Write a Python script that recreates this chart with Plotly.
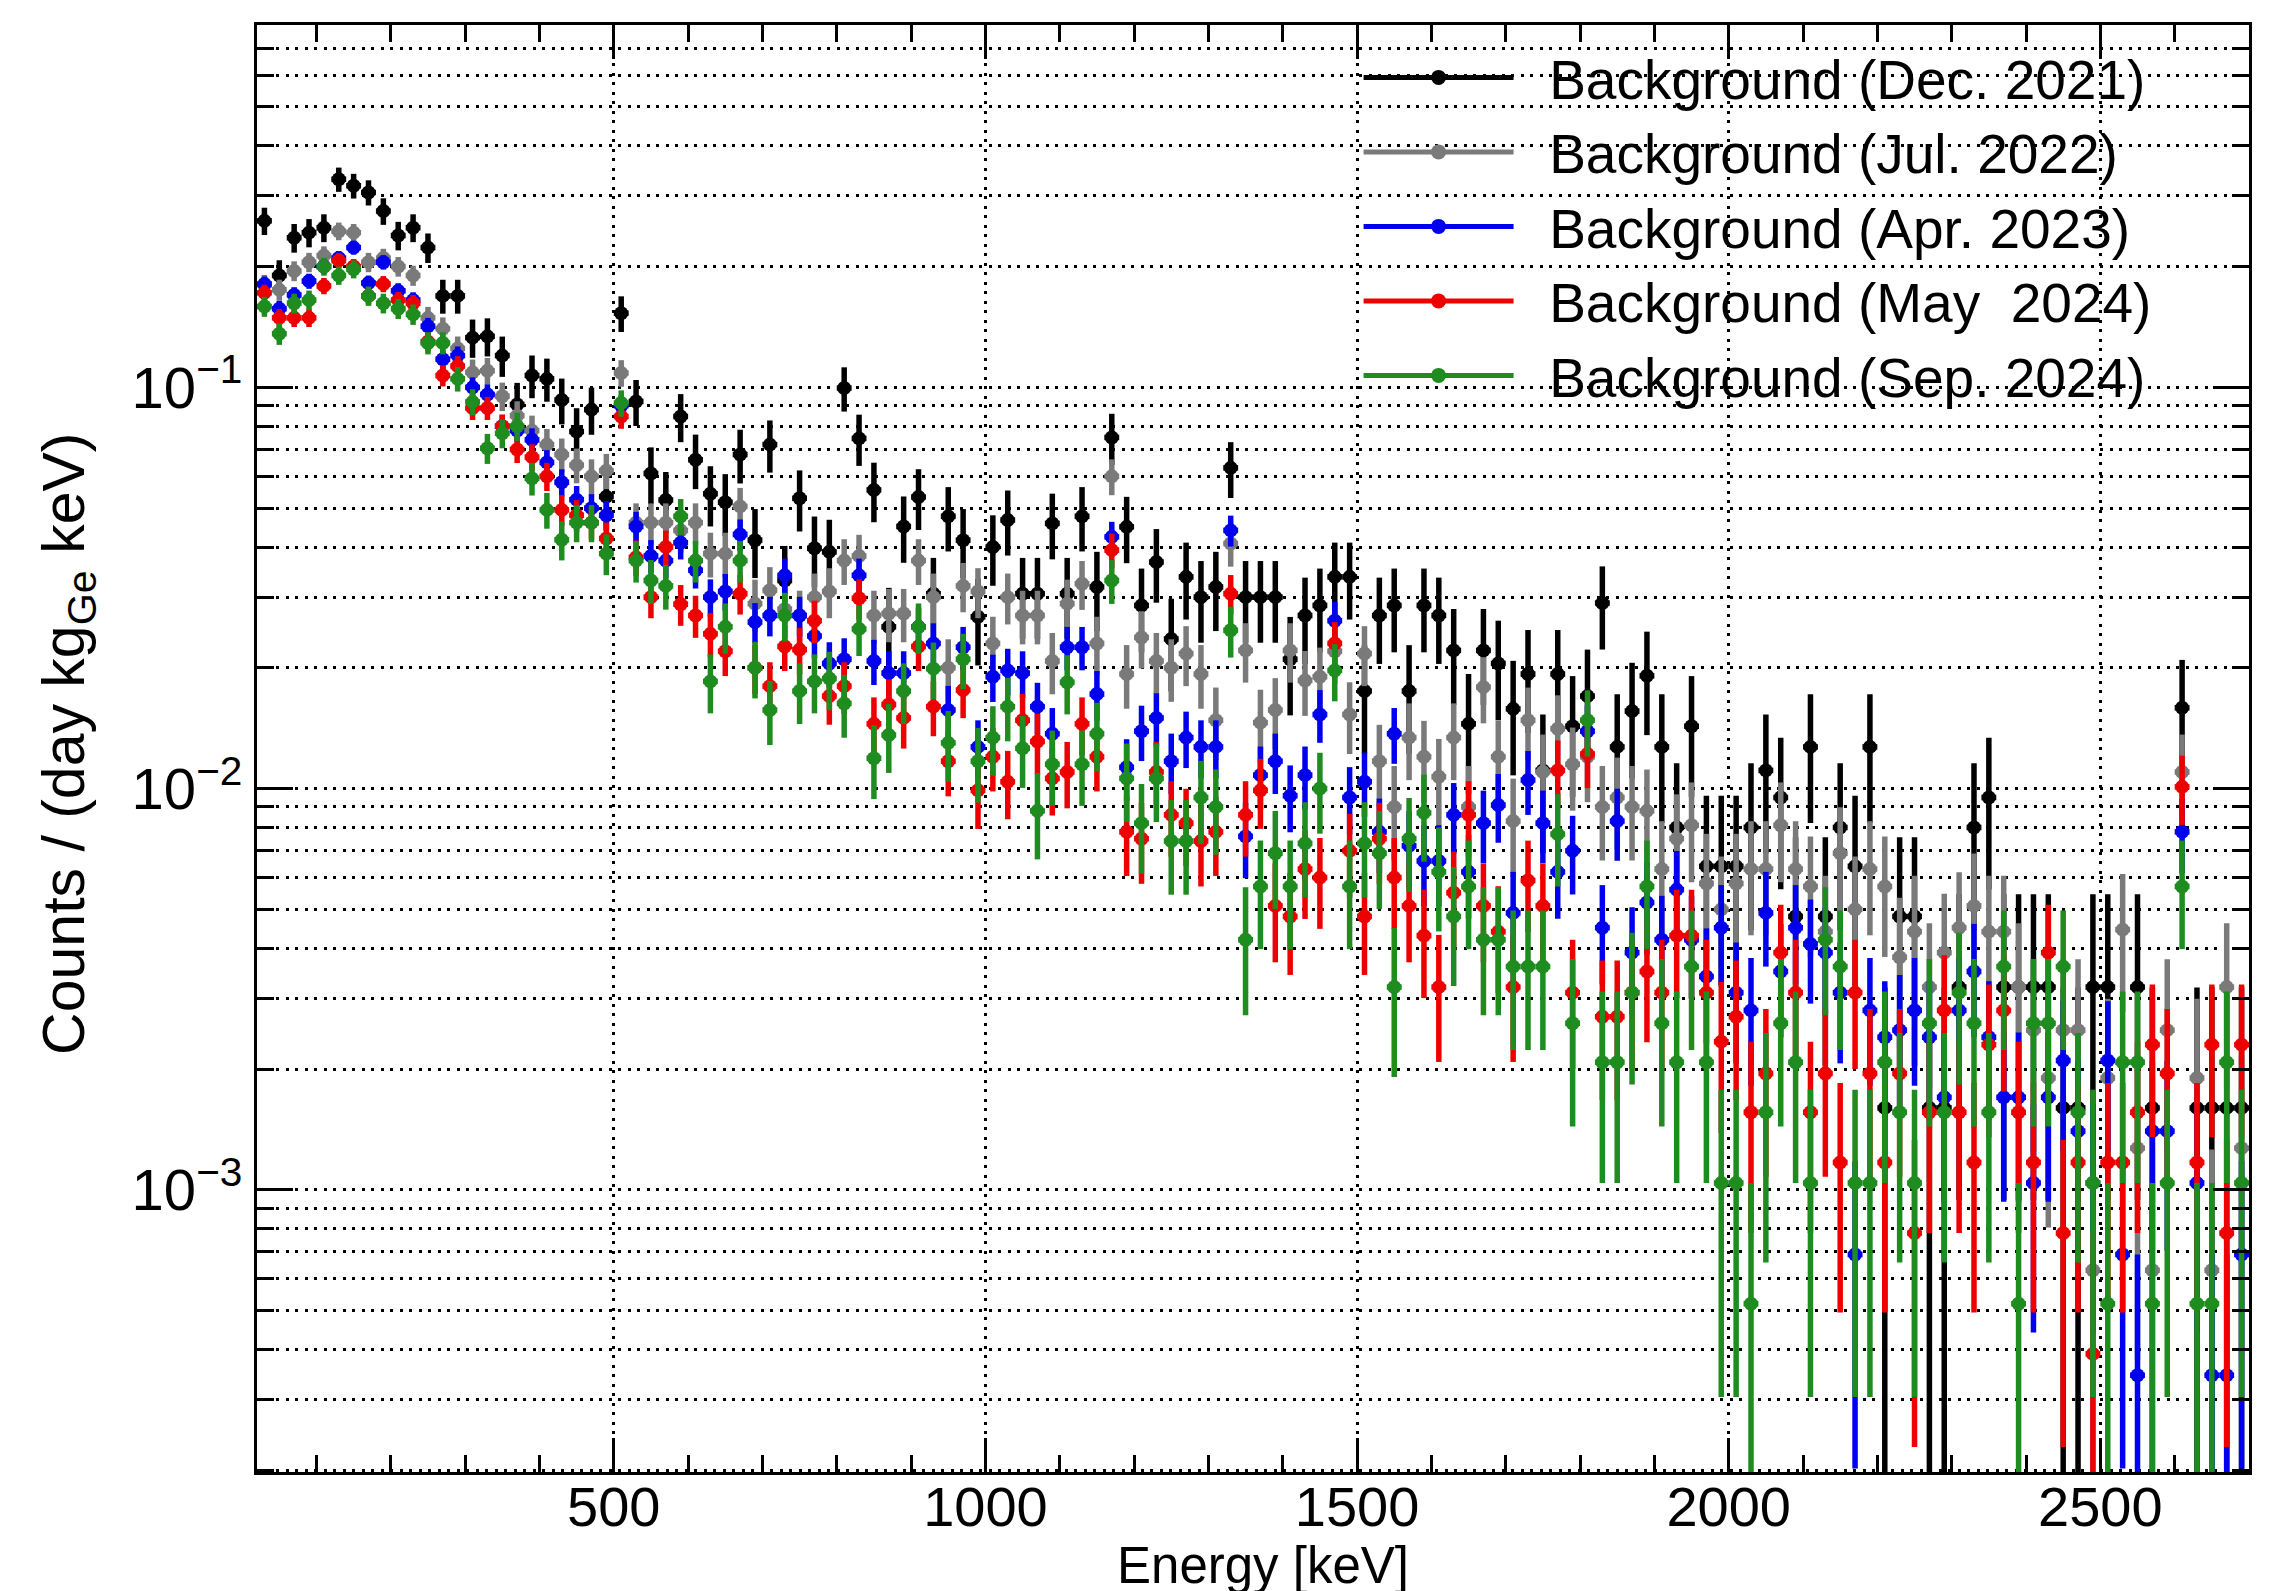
import math
import plotly.graph_objects as go

# ---------------- binning (20 keV bins from 20 to 2700 keV) ----------------
E_MIN, E_MAX, BIN_W = 20.0, 2700.0, 20.0
N_BINS = int((E_MAX - E_MIN) / BIN_W)
energy_keV = [E_MIN + BIN_W * (i + 0.5) for i in range(N_BINS)]

# ---------------- read-off rates, counts / (day kg_Ge keV) ----------------
# Background (Dec. 2021)
dec2021_a = [0.26, 0.19, 0.236, 0.243, 0.25, 0.33, 0.318, 0.306, 0.275, 0.239, 0.25, 0.223,
             0.169, 0.169, 0.133, 0.134, 0.12, 0.0906, 0.107, 0.105, 0.093, 0.0776, 0.088, 0.0534]
dec2021_b = [0.153, 0.0922, 0.061, 0.0524, 0.0846, 0.066, 0.0543, 0.0517, 0.068, 0.0416, 0.072, 0.033,
             0.0529, 0.0397, 0.0389, 0.0996, 0.0746, 0.0555, 0.0253, 0.045, 0.0533, 0.0306, 0.0477, 0.0416,
             0.0268, 0.04, 0.0467, 0.0306, 0.0306, 0.0458, 0.0306, 0.0477]
dec2021_c = [0.0318, 0.075, 0.0449, 0.0286, 0.0367, 0.0236, 0.0337, 0.030, 0.0318, 0.063, 0.030, 0.030,
             0.030, 0.021, 0.027, 0.0286, 0.0337, 0.0337, 0.0175, 0.027, 0.0286, 0.0175, 0.0286, 0.027,
             0.0221, 0.0145, 0.0221, 0.0205, 0.0158, 0.0193, 0.0111, 0.0193]
dec2021_d = [0.0143, 0.017, 0.029, 0.0127, 0.0156, 0.0191, 0.0127, 0.008, 0.0143, 0.0064, 0.0064, 0.0064,
             0.008, 0.0111, 0.0095, 0.0048, 0.0127, 0.0048, 0.008, 0.0064, 0.0127, 0.0016, 0.0048, 0.0048,
             0.0016, 0.0016, 0.0032, 0.008, 0.0095, 0.0032, 0.0032, 0.0032, 0.0032, 0.0016, 0.0016, 0.0032,
             0.0032, None, 0.0032, 0.0016, None, 0.0159, 0.0016, 0.0016, 0.0016, 0.0016]

# Background (Jul. 2022)
jul2022_a = [0.18, 0.175, 0.195, 0.205, 0.213, 0.245, 0.243, 0.205, 0.21, 0.2, 0.19, 0.149,
             0.14, 0.125, 0.109, 0.11, 0.095, 0.085, 0.078, 0.072, 0.068, 0.064, 0.06, 0.062]
jul2022_b = [0.1086, 0.046, 0.046, 0.046, 0.044, 0.046, 0.0385, 0.0385, 0.0505, 0.0289, 0.0312, 0.028,
             0.027, 0.03, 0.031, 0.037, 0.038, 0.027, 0.0273, 0.0273, 0.037, 0.03, 0.02, 0.032,
             0.031, 0.023, 0.03, 0.027, 0.027, 0.0208, 0.0289, 0.0324]
jul2022_c = [0.023, 0.06, 0.0193, 0.0238, 0.0208, 0.02, 0.0217, 0.0193, 0.0148, 0.0408, 0.0221, 0.0146,
             0.0157, 0.0221, 0.0186, 0.019, 0.022, 0.0153, 0.0217, 0.0117, 0.009, 0.0134, 0.012, 0.0107,
             0.0134, 0.009, 0.0179, 0.012, 0.0083, 0.0148, 0.011, 0.0141]
jul2022_d = [0.0115, 0.012, 0.009, 0.0095, 0.009, 0.0088, 0.0063, 0.0075, 0.0081, 0.0058, 0.005, 0.0058,
             0.0063, 0.0063, 0.0081, 0.0063, 0.0057, 0.0044, 0.0069, 0.005, 0.0063, 0.0057, 0.0038, 0.0044,
             0.0032, 0.0039, 0.0045, 0.0051, 0.0044, 0.0044, 0.0032, 0.0025, 0.0019, 0.0025, 0.0025, 0.00063,
             0.0019, 0.00445, 0.00127, 0.00063, 0.0025, 0.011, 0.0019, 0.00063, 0.0032, 0.00127]

# Background (Apr. 2023)
apr2023_a = [0.181, 0.157, 0.17, 0.184, 0.2, 0.21, 0.223, 0.182, 0.205, 0.174, 0.165, 0.142,
             0.1175, 0.12, 0.1, 0.096, 0.08, 0.078, 0.074, 0.065, 0.058, 0.0525, 0.05, 0.048]
apr2023_b = [0.09, 0.045, 0.038, 0.037, 0.041, 0.035, 0.03, 0.031, 0.043, 0.026, 0.027, 0.034,
             0.027, 0.024, 0.0205, 0.021, 0.034, 0.0208, 0.0194, 0.0194, 0.0253, 0.023, 0.0157, 0.0225,
             0.0127, 0.019, 0.0197, 0.0194, 0.016, 0.0137, 0.0225, 0.0225]
apr2023_c = [0.0172, 0.0424, 0.0113, 0.0139, 0.015, 0.0117, 0.0134, 0.0127, 0.0127, 0.044, 0.0076, 0.0108,
             0.0117, 0.0096, 0.0108, 0.0153, 0.0262, 0.0095, 0.0104, 0.0078, 0.0137, 0.0072, 0.0066, 0.0066,
             0.0086, 0.0062, 0.0082, 0.0091, 0.0049, 0.0105, 0.0082, 0.0062]
apr2023_d = [0.007, 0.0139, 0.0045, 0.0083, 0.0039, 0.0052, 0.0042, 0.0056, 0.0042, 0.0034, 0.0045, 0.0031,
             0.0028, 0.0049, 0.0035, 0.0045, 0.0041, 0.0039, 0.0031, 0.00069, 0.0028, 0.0024, 0.0025, 0.0028,
             0.0024, 0.0017, 0.0028, 0.0035, 0.0024, 0.0017, 0.0017, 0.00104, 0.0017, 0.0021, 0.0014, 0.00104,
             0.0021, 0.00069, 0.000345, 0.0014, 0.0014, 0.0078, 0.00104, 0.000345, 0.000345, 0.00069]

# Background (May 2024)
may2024_a = [0.172, 0.149, 0.149, 0.149, 0.179, 0.207, 0.2, 0.169, 0.181, 0.165, 0.162, 0.13,
             0.107, 0.113, 0.0888, 0.0888, 0.08, 0.07, 0.067, 0.06, 0.0495, 0.048, 0.046, 0.042]
may2024_b = [0.0846, 0.0377, 0.03, 0.04, 0.0288, 0.027, 0.0243, 0.022, 0.0306, 0.02, 0.018, 0.0226,
             0.0222, 0.0262, 0.017, 0.018, 0.0298, 0.0145, 0.0162, 0.015, 0.0226, 0.016, 0.0117, 0.0176,
             0.0099, 0.012, 0.0104, 0.0148, 0.0131, 0.0106, 0.011, 0.0145]
may2024_c = [0.012, 0.0393, 0.0078, 0.0075, 0.011, 0.0086, 0.0082, 0.0074, 0.0078, 0.0306, 0.0086, 0.0099,
             0.0051, 0.0048, 0.0063, 0.006, 0.023, 0.007, 0.0048, 0.0075, 0.006, 0.0051, 0.0043, 0.0032,
             0.0055, 0.0086, 0.0051, 0.0044, 0.0032, 0.0059, 0.0051, 0.0111]
may2024_d = [0.0031, 0.0122, 0.0027, 0.0027, 0.0031, 0.0035, 0.0031, 0.0043, 0.0043, 0.0031, 0.00234, 0.0027,
             0.00156, 0.00195, 0.0039, 0.0031, 0.00156, 0.00195, 0.00117, 0.0031, 0.00195, 0.00117, 0.00195, 0.00078,
             0.00156, 0.0028, 0.00156, 0.00117, 0.0023, 0.0028, 0.00156, 0.00117, 0.0039, 0.00078, 0.00117, 0.00039,
             0.00117, 0.00117, 0.00156, 0.0023, 0.00195, 0.0101, 0.00117, 0.0023, 0.00078, 0.0023]

# Background (Sep. 2024)
sep2024_a = [0.159, 0.136, 0.162, 0.165, 0.2, 0.19, 0.197, 0.169, 0.162, 0.157, 0.152, 0.129,
             0.129, 0.105, 0.092, 0.0705, 0.0768, 0.08, 0.0593, 0.0495, 0.0417, 0.046, 0.046, 0.0385]
sep2024_b = [0.0914, 0.037, 0.033, 0.032, 0.0477, 0.037, 0.0185, 0.0253, 0.037, 0.02, 0.0157, 0.027,
             0.0175, 0.0185, 0.0188, 0.0163, 0.025, 0.0119, 0.0136, 0.0175, 0.0253, 0.0199, 0.013, 0.021,
             0.0117, 0.0134, 0.016, 0.0126, 0.0088, 0.0115, 0.0184, 0.0115]
sep2024_c = [0.0137, 0.033, 0.0106, 0.0082, 0.0106, 0.0074, 0.0074, 0.0095, 0.009, 0.0248, 0.0042, 0.0057,
             0.0069, 0.0057, 0.0073, 0.01, 0.0197, 0.0057, 0.0073, 0.0069, 0.0032, 0.0075, 0.0087, 0.0062,
             0.0048, 0.0057, 0.0042, 0.0042, 0.0036, 0.0036, 0.0036, 0.0077]
sep2024_d = [0.0026, 0.0148, 0.00208, 0.00208, 0.0031, 0.0057, 0.0026, 0.00208, 0.0036, 0.00208, 0.00104, 0.00104,
             0.00052, 0.00156, 0.0026, 0.00208, 0.00104, 0.0042, 0.0036, 0.00104, 0.00104, 0.00208, 0.00156, 0.00104,
             0.0026, 0.00156, 0.0031, 0.0026, 0.00156, 0.0036, 0.00052, 0.0026, 0.0026, 0.0036, 0.00156, 0.00104,
             0.00052, 0.00208, 0.00208, 0.00052, 0.00104, 0.0057, 0.00052, 0.00052, 0.00208, 0.00104]

# rate corresponding to one count in a bin (read from the lowest quantised levels)
one_count_rate = {"dec2021": 0.00159, "jul2022": 0.00063, "apr2023": 0.000345,
                  "may2024": 0.00039, "sep2024": 0.00052}

series = [
    ("dec2021", "Background (Dec. 2021)", "#000000", dec2021_a + dec2021_b + dec2021_c + dec2021_d),
    ("jul2022", "Background (Jul. 2022)", "#7a7a7a", jul2022_a + jul2022_b + jul2022_c + jul2022_d),
    ("apr2023", "Background (Apr. 2023)", "#0000ee", apr2023_a + apr2023_b + apr2023_c + apr2023_d),
    ("may2024", "Background (May\u00a0 2024)", "#ee0000", may2024_a + may2024_b + may2024_c + may2024_d),
    ("sep2024", "Background (Sep. 2024)", "#1e8c1e", sep2024_a + sep2024_b + sep2024_c + sep2024_d),
]

y_major = [1e-3, 1e-2, 1e-1]
y_major_text = ["10<sup>\u22123</sup>", "10<sup>\u22122</sup>", "10<sup>\u22121</sup>"]
y_minor = [k * 10 ** e for e in range(-4, 0) for k in range(2, 10)]
x_major = [500, 1000, 1500, 2000, 2500]

FONT = "Liberation Sans, Arial, Helvetica, sans-serif"
GRID_DASH = "3px,6.5px"

fig = go.Figure()
for key, name, color, vals in series:
    u = one_count_rate[key]
    errs = [math.sqrt(v * u) if v is not None else None for v in vals]
    fig.add_trace(go.Scatter(
        x=energy_keV, y=vals, mode="markers", name=name, showlegend=False,
        marker=dict(color=color, size=14, symbol="circle"),
        error_y=dict(type="data", array=errs, visible=True, color=color, thickness=5.5, width=0),
        error_x=dict(type="constant", value=BIN_W / 2, visible=True, color=color, thickness=5.5, width=0),
    ))

# legend entries (line + marker like the ROOT legend)
for key, name, color, vals in series:
    fig.add_trace(go.Scatter(
        x=[None], y=[None], mode="lines+markers", name="\u00a0\u00a0" + name,
        line=dict(color=color, width=5), marker=dict(color=color, size=15),
    ))

fig.update_layout(
    width=2280, height=1591,
    margin=dict(l=249, r=39, t=17, b=127),
    paper_bgcolor="white", plot_bgcolor="white",
    font=dict(family=FONT, size=57, color="black"),
    legend=dict(x=0.553, y=0.993, xanchor="left", yanchor="top",
                bgcolor="rgba(0,0,0,0)", borderwidth=0,
                font=dict(family=FONT, size=55, color="black"),
                itemwidth=150, tracegroupgap=0),
    xaxis=dict(
        range=[E_MIN, E_MAX], tickmode="array", tickvals=x_major,
        ticks="inside", ticklen=34, tickwidth=3, tickcolor="black",
        showline=True, linewidth=3, linecolor="black", mirror="ticks",
        showgrid=True, gridcolor="black", gridwidth=2.5, griddash=GRID_DASH,
        zeroline=False, tickfont=dict(size=56), ticklabelstandoff=-16,
        minor=dict(dtick=100, tick0=0, ticks="inside", ticklen=17, tickwidth=3,
                   tickcolor="black", showgrid=False),
    ),
    yaxis=dict(
        type="log", range=[math.log10(1.98e-4), math.log10(0.8)],
        tickmode="array", tickvals=y_major, ticktext=y_major_text,
        ticks="inside", ticklen=36, tickwidth=3, tickcolor="black",
        showline=True, linewidth=3, linecolor="black", mirror="ticks",
        showgrid=True, gridcolor="black", gridwidth=2.5, griddash=GRID_DASH,
        zeroline=False, tickfont=dict(size=58),
        minor=dict(tickmode="array", tickvals=y_minor, ticks="inside", ticklen=17, tickwidth=3,
                   tickcolor="black", showgrid=True, gridcolor="black", gridwidth=2.5,
                   griddash=GRID_DASH),
    ),
    annotations=[
        dict(text="Counts / (day kg<sub>Ge</sub> keV)", textangle=-90,
             xref="paper", yref="paper", x=-0.095, y=0.503, xanchor="center", yanchor="middle",
             showarrow=False, font=dict(family=FONT, size=59, color="black")),
        dict(text="Energy [keV]", xref="paper", yref="paper", x=0.505, y=-0.0855,
             xanchor="center", yanchor="bottom", showarrow=False,
             font=dict(family=FONT, size=51, color="black")),
    ],
)

fig.write_html("out.html")
